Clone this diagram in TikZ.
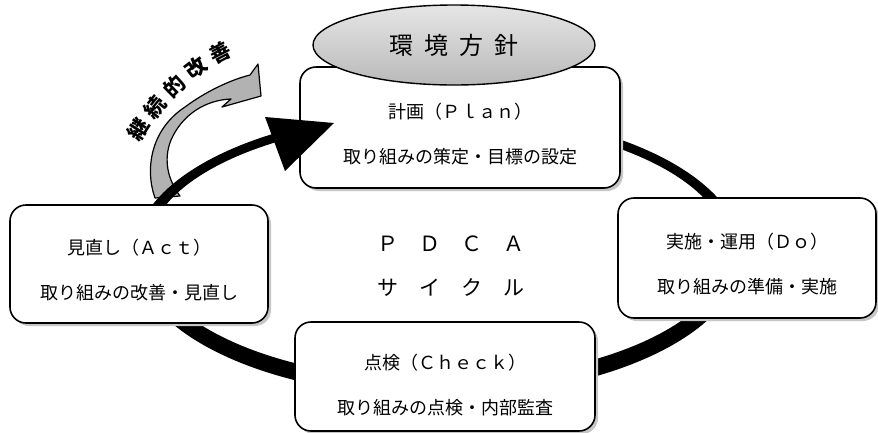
\documentclass[tikz,border=0pt]{standalone}
\usepackage{fontspec}
\setmainfont{Noto Sans CJK JP}
\usetikzlibrary{shapes.geometric,shadows,decorations.text}

\newcommand{\boxstrut}{\rule{0pt}{28pt}}
\newcommand{\kaizenfont}{\fontsize{21}{21}\selectfont\bfseries}

\tikzset{
  pdcabox/.style={draw, line width=1.6pt, fill=white, rounded corners=16pt,
    align=center, font=\fontsize{18}{22}\selectfont,
    drop shadow={shadow xshift=3pt, shadow yshift=-3pt, fill=gray!45, opacity=1}},
  policy/.style={ellipse, draw, line width=1.4pt, top color=gray!20,
    bottom color=gray!55, font=\fontsize{24}{28}\selectfont},
}

\begin{document}
\begin{tikzpicture}[x=1pt, y=-1pt]
  \useasboundingbox (0,0) rectangle (878,432);

  % continual improvement arrow
  \draw[fill=gray!60, line width=1.2pt, line join=round]
    (155,198) .. controls (145,170) and (150,130) .. (185,107)
    .. controls (205,92) and (230,80) .. (250,75) -- (258,64) -- (261,96)
    -- (222,107) -- (231,99)
    .. controls (205,100) and (182,115) .. (171,140)
    .. controls (163,160) and (168,180) .. (180,196) -- cycle;

  % the cycle ring
  \fill[even odd rule] (438,254) ellipse [x radius=304, y radius=143]
    (438,250) ellipse [x radius=290, y radius=130];

  \node[pdcabox, minimum width=320, minimum height=121] (plan) at (460,127.5)
    {\boxstrut 計画（Ｐｌａｎ）\\[23pt]取り組みの策定・目標の設定};
  \node[pdcabox, minimum width=258, minimum height=120] (do) at (747,258)
    {\boxstrut 実施・運用（Ｄｏ）\\[23pt]取り組みの準備・実施};
  \node[pdcabox, minimum width=300, minimum height=109] (check) at (445,376.5)
    {\rule{0pt}{32pt}点検（Ｃｈｅｃｋ）\\[23pt]取り組みの点検・内部監査};
  \node[pdcabox, minimum width=258, minimum height=118] (act) at (139,264)
    {\boxstrut 見直し（Ａｃｔ）\\[23pt]取り組みの改善・見直し};

  \node[policy, minimum width=282, minimum height=80] (policy) at (454,45)
    {環\hspace{11pt}境\hspace{11pt}方\hspace{11pt}針};

  % arrow head onto the plan box
  \fill (265,117) -- (285,171) -- (334,123) -- cycle;

  \node[align=center, font=\fontsize{21}{24}\selectfont] (cycle) at (451,266)
    {Ｐ　Ｄ　Ｃ　Ａ\\[20pt]サ　イ　ク　ル};

  \path[decorate, decoration={text along path, text align={fit to path},
      text={|\kaizenfont|継続的改善}}]
    (140,143) .. controls (157,112) and (195,70) .. (233,55);
\end{tikzpicture}
\end{document}
